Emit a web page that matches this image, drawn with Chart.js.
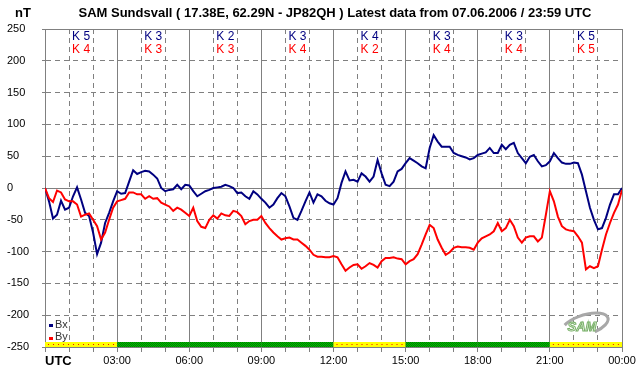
<!DOCTYPE html>
<html>
<head>
<meta charset="utf-8">
<script src="https://cdn.jsdelivr.net/npm/chart.js@4"></script>
<style>
  html, body { margin: 0; padding: 0; background: #fff; }
  canvas { display: block; }
</style>
</head>
<body>
<canvas id="chart" width="642" height="376"></canvas>
<script>
// one reading every 10 minutes, 00:00 -> 24:00 UTC
const STEP_MINUTES = 10;

const bx = [
  0, -21, -48, -42, -20, -34, -31, -13, 1, -18, -39, -44, -70, -104, -86, -55, -39, -21,
  -5, -9, -8, 10, 28, 22, 25, 27, 26, 21, 15, 0, -5, -3, -2, 5, -2, 5,
  4, -5, -13, -9, -5, -3, 0, 1, 2, 5, 3, 0, -8, -7, -13, -17, -5, -10,
  -17, -23, -31, -26, -16, -8, -13, -29, -47, -50, -36, -21, -7, -23, -10, -13, -20, -24,
  -26, -16, 8, 26, 12, 13, 10, 23, 18, 10, 18, 44, 23, 5, 3, 10, 26, 30,
  39, 47, 43, 39, 34, 31, 63, 83, 73, 65, 65, 65, 55, 52, 50, 48, 45, 47,
  52, 54, 56, 63, 55, 55, 68, 61, 68, 71, 55, 47, 39, 49, 52, 42, 34, 36,
  42, 55, 47, 40, 38, 38, 40, 39, 21, -5, -31, -50, -65, -63, -47, -26, -10, -10,
  0
];

const by = [
  0, -16, -22, -4, -7, -18, -21, -21, -26, -45, -42, -40, -50, -60, -81, -70, -50, -31,
  -21, -19, -17, -7, -7, -10, -10, -17, -13, -17, -16, -23, -26, -29, -36, -31, -34, -39,
  -44, -31, -52, -61, -63, -50, -43, -48, -40, -43, -44, -36, -38, -44, -57, -52, -50, -50,
  -44, -55, -63, -70, -76, -81, -79, -78, -81, -81, -86, -91, -97, -105, -108, -108, -109, -109,
  -107, -109, -120, -130, -125, -121, -120, -127, -123, -118, -121, -125, -115, -110, -110, -109, -111, -112,
  -120, -115, -112, -104, -89, -73, -58, -63, -81, -94, -105, -101, -94, -92, -93, -93, -94, -97,
  -86, -79, -76, -73, -68, -55, -68, -63, -50, -60, -78, -86, -78, -76, -76, -84, -78, -42,
  -5, -21, -45, -60, -65, -67, -68, -76, -86, -128, -123, -126, -123, -97, -73, -55, -39, -26,
  -3
];

// K index per 3-hour block
const kBx = [5, 3, 2, 3, 4, 3, 3, 5];
const kBy = [4, 3, 3, 4, 2, 4, 4, 5];
// activity band under the plot: 'y' = disturbed (yellow), 'g' = quiet (green)
const band = ['y', 'g', 'g', 'g', 'y', 'g', 'g', 'y'];

const TITLE = 'SAM Sundsvall ( 17.38E, 62.29N - JP82QH ) Latest data from 07.06.2006 / 23:59 UTC';
const FONT = '"Liberation Sans", Arial, sans-serif';
const GRID = '#808080';

const toPoints = arr => arr.map((v, i) => ({ x: i * STEP_MINUTES, y: v }));

function greenPattern(ctx) {
  const c = document.createElement('canvas');
  c.width = 2; c.height = 2;
  const p = c.getContext('2d');
  p.fillStyle = '#00c000';
  p.fillRect(0, 0, 2, 2);
  p.fillStyle = '#007a00';
  p.fillRect(0, 0, 1, 1);
  p.fillRect(1, 1, 1, 1);
  return ctx.createPattern(c, 'repeat');
}

const overlay = {
  id: 'overlay',
  afterDatasetsDraw(chart) {
    const { ctx, chartArea: a, scales: { x } } = chart;
    const top = a.bottom - 5;
    ctx.save();
    band.forEach((b, i) => {
      const x0 = x.getPixelForValue(i * 180);
      const x1 = x.getPixelForValue((i + 1) * 180);
      if (b === 'y') {
        ctx.fillStyle = '#ffff00';
        ctx.fillRect(x0, top, x1 - x0, 5);
        ctx.fillStyle = '#ff0000';
        for (let px = x0 + 3; px < x1 - 1; px += 5) ctx.fillRect(px, top + 2, 1, 1);
      } else {
        ctx.fillStyle = greenPattern(ctx);
        ctx.fillRect(x0, top, x1 - x0, 5);
      }
    });
    ctx.restore();
  },
  afterDraw(chart) {
    const { ctx, chartArea: a, scales: { x } } = chart;
    ctx.save();
    ctx.textBaseline = 'middle';

    ctx.fillStyle = '#000';
    ctx.font = 'bold 13px ' + FONT;
    ctx.textAlign = 'center';
    ctx.fillText(TITLE, 335, 13);
    ctx.textAlign = 'left';
    ctx.fillText('nT', 15, 13);
    ctx.fillText('UTC', a.left, 361);

    ctx.font = '12px ' + FONT;
    ctx.textAlign = 'center';
    kBx.forEach((k, i) => {
      const cx = x.getPixelForValue(i * 180 + 90);
      ctx.fillStyle = '#000080';
      ctx.fillText('K ' + k, cx, 37);
      ctx.fillStyle = '#ff0000';
      ctx.fillText('K ' + kBy[i], cx, 50);
    });

    // legend
    ctx.textAlign = 'left';
    ctx.font = '11px ' + FONT;
    ctx.fillStyle = '#000080';
    ctx.fillRect(49, 324, 4, 3);
    ctx.fillStyle = '#ff0000';
    ctx.fillRect(49, 337, 4, 3);
    ctx.fillStyle = '#333';
    ctx.fillText('Bx', 55, 325);
    ctx.fillText('By', 55, 337);

    // SAM logo
    ctx.strokeStyle = '#a8a8a8';
    ctx.lineWidth = 3;
    ctx.beginPath();
    ctx.ellipse(585, 325, 24, 10, -0.3, Math.PI * 1.2, Math.PI * 2.4);
    ctx.stroke();
    ctx.font = 'italic bold 13px ' + FONT;
    ctx.fillStyle = '#eef6e8';
    ctx.strokeStyle = '#78b068';
    ctx.lineWidth = 1;
    ctx.textAlign = 'center';
    ctx.fillText('SAM', 582, 327);
    ctx.strokeText('SAM', 582, 327);
    ctx.restore();
  }
};

new Chart(document.getElementById('chart').getContext('2d'), {
  type: 'line',
  data: {
    datasets: [
      { label: 'Bx', data: toPoints(bx), borderColor: '#000080', borderWidth: 2, pointRadius: 0, order: 2 },
      { label: 'By', data: toPoints(by), borderColor: '#ff0000', borderWidth: 2, pointRadius: 0, order: 1 }
    ]
  },
  options: {
    responsive: false,
    animation: false,
    layout: { padding: { left: 7, right: 20, top: 29, bottom: 0 } },
    plugins: { legend: { display: false }, tooltip: { enabled: false } },
    elements: { line: { tension: 0 } },
    scales: {
      x: {
        type: 'linear',
        min: 0,
        max: 1440,
        afterFit: s => { s.height = 29; },
        ticks: {
          stepSize: 60,
          autoSkip: false,
          maxRotation: 0,
          padding: 2,
          color: '#000',
          font: { family: FONT, size: 11 },
          callback: v => (v > 0 && v % 180 === 0) ? String((v / 60) % 24).padStart(2, '0') + ':00' : ''
        },
        grid: { color: GRID, tickColor: GRID, tickLength: 5, lineWidth: 1 },
        border: {
          color: GRID,
          dash: c => (c.tick && c.tick.value % 180 === 0) ? [] : [5, 4]
        }
      },
      y: {
        min: -250,
        max: 250,
        afterFit: s => { s.width = 38; },
        ticks: {
          stepSize: 50,
          crossAlign: 'far',
          color: '#000',
          font: { family: FONT, size: 11 }
        },
        grid: { color: GRID, tickColor: GRID, tickLength: 3, lineWidth: 1 },
        border: {
          color: GRID,
          dash: c => (c.tick && (c.tick.value === 0 || Math.abs(c.tick.value) === 250)) ? [] : [5, 4]
        }
      }
    }
  },
  plugins: [overlay]
});
</script>
</body>
</html>
